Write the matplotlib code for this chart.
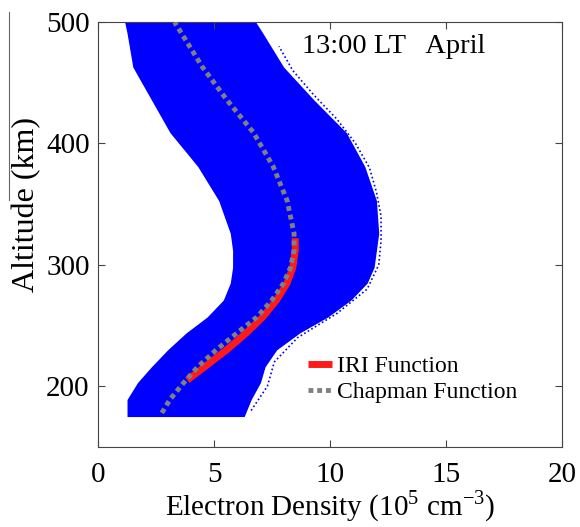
import matplotlib.pyplot as plt
from matplotlib.lines import Line2D

plt.rcParams.update({
    "font.family": "serif", "font.serif": ["Liberation Serif", "DejaVu Serif"],
    "mathtext.fontset": "custom", "mathtext.rm": "Liberation Serif",
})

# envelope of the measured profiles (altitude km -> density 1e5 cm^-3)
env_alt = [175, 189, 203, 216, 230, 244, 257, 271, 285, 298, 312, 326, 353, 381, 409, 436, 463, 491, 500]
env_left = [1.25, 1.25, 1.7, 2.3, 3.0, 3.8, 4.7, 5.4, 5.7, 5.8, 5.8, 5.7, 5.2, 4.3, 3.1, 2.3, 1.5, 1.25, 1.15]
env_right = [6.3, 6.6, 7.0, 7.2, 7.7, 8.7, 9.9, 10.9, 11.6, 11.9, 12.0, 12.1, 12.0, 11.5, 10.7, 9.3, 8.0, 7.1, 6.8]

# outer scattered profiles on the right fringe
fr_alt = [180, 200, 220, 240, 260, 280, 300, 320, 340, 360, 380, 400, 420, 440, 460, 480]
fr_right = [6.6, 7.3, 7.6, 8.6, 10.3, 11.6, 12.1, 12.2, 12.2, 12.0, 11.7, 11.1, 10.3, 9.3, 8.4, 7.8]

# Chapman function
ch_alt = [178, 189, 203, 216, 230, 244, 257, 271, 285, 298, 312, 326, 353, 381, 409, 436, 463, 500]
ch_ne = [2.75, 3.1, 3.7, 4.3, 5.1, 6.0, 6.85, 7.5, 8.0, 8.3, 8.45, 8.45, 8.15, 7.55, 6.7, 5.55, 4.5, 3.3]

# IRI function
iri_alt = [205, 216, 230, 244, 257, 271, 285, 298, 312, 322]
iri_ne = [3.85, 4.6, 5.55, 6.4, 7.1, 7.7, 8.15, 8.4, 8.5, 8.5]

fig = plt.figure(figsize=(5.8, 5.27), dpi=100)
ax = fig.add_axes([0.169, 0.152, 0.8, 0.806])

ax.fill_betweenx(env_alt, env_left, env_right, color="#0000ff", lw=0, zorder=1)
ax.plot(fr_right, fr_alt, color="#0000ff", ls=(0, (1, 1.5)), lw=1.2, zorder=1)
ax.plot(iri_ne, iri_alt, color="#ff1a1a", lw=5, solid_capstyle="butt", label="IRI Function", zorder=3)
ax.plot(ch_ne, ch_alt, color="#808080", lw=3.5, ls=(0, (1, 0.8)), label="Chapman Function", zorder=4)

ax.text(0.834, 0.927, "13:00 LT   April", transform=ax.transAxes, ha="right", va="baseline", fontsize=20.5)

ax.set_xlim(0, 20)
ax.set_ylim(150, 500)
ax.set_xticks([0, 5, 10, 15, 20])
ax.set_yticks([200, 300, 400, 500])
for s in ax.spines.values():
    s.set_color("#444444")
ax.tick_params(direction="in", top=True, right=True, labelsize=21, length=5, color="#444444")
ax.tick_params(axis="x", pad=11)
ax.tick_params(axis="y", pad=6)
ax.set_xlabel("Electron Density (10$^5$ cm$^{-3}$)", fontsize=21, labelpad=0)
ax.set_ylabel("Altitude (km)", fontsize=23)
ax.yaxis.set_label_coords(-0.122, 0.57)
ax.legend(loc="lower left", bbox_to_anchor=(0.427, 0.075), frameon=False, fontsize=17,
          handlelength=1.0, handletextpad=0.25, labelspacing=0.2, borderpad=0)

# thin stray line at the left edge of the original image
fig.add_artist(Line2D([9 / 580, 9 / 580], [1 - 12 / 527, 1 - 200 / 527], color="#666666", lw=0.8))

fig.savefig("out.png", dpi=100)
